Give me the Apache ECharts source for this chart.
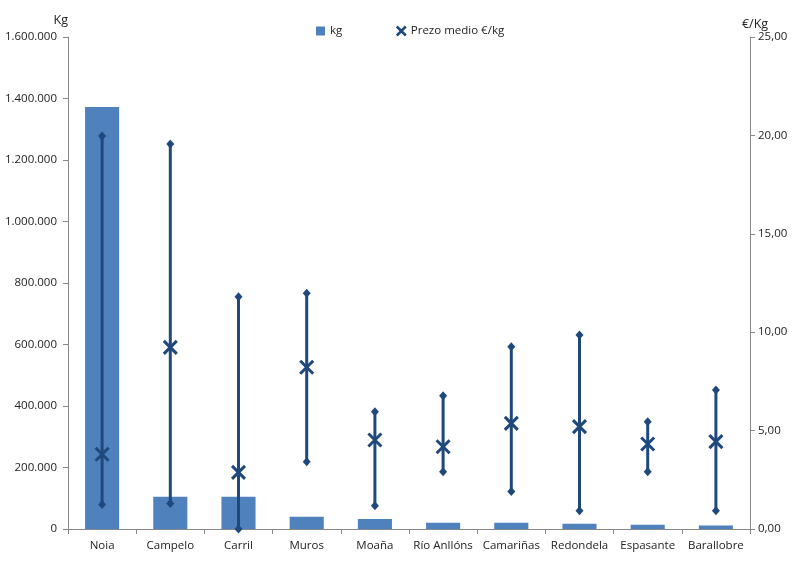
<!DOCTYPE html>
<html>
<head>
<meta charset="utf-8">
<script src="https://cdn.jsdelivr.net/npm/echarts@6/dist/echarts.min.js"></script>
<style>html,body{margin:0;padding:0;background:#fff}#c{width:795px;height:573px}</style>
</head>
<body>
<div id="c"></div>
<script>
const categories = ['Noia','Campelo','Carril','Muros','Moaña','Río Anllóns','Camariñas','Redondela','Espasante','Barallobre'];
const kg = [1372000, 105000, 105000, 40000, 32500, 20500, 20000, 17000, 14000, 11000];
const priceMin = [1.25, 1.30, 0.00, 3.42, 1.18, 2.91, 1.90, 0.93, 2.91, 0.93];
const priceMax = [19.97, 19.56, 11.80, 11.98, 5.96, 6.77, 9.26, 9.86, 5.45, 7.06];
const priceAvg = [3.80, 9.23, 2.88, 8.22, 4.52, 4.18, 5.37, 5.20, 4.32, 4.44];
const leftTicks = [0, 200000, 1600000];
const rightTicks = [0, 5, 25];

const FONT = 'Open Sans';
const TXT = '#222';
const BLUE_DARK = '#1F497D';
const BAR = '#4F81BD';
const X_PATH = 'path://M0,0L10,10M10,0L0,10';

function fmtThousands(v){
  return String(Math.round(v)).replace(/\B(?=(\d{3})+(?!\d))/g, '.');
}
function fmtDec(v){ return v.toFixed(2).replace('.', ','); }

const chart = echarts.init(document.getElementById('c'), null, {renderer:'canvas'});
chart.setOption({
  animation:false,
  textStyle:{fontFamily:FONT, color:TXT},
  grid:{left:68, right:45, top:37, bottom:44},
  legend:{
    top:19, left:311, itemGap:52, itemWidth:9, itemHeight:9,
    textStyle:{fontFamily:FONT, fontSize:11.5, color:TXT},
    data:[
      {name:'kg', icon:'rect', itemStyle:{color:BAR}},
      {name:'Prezo medio €/kg', icon:X_PATH, itemStyle:{color:'none', borderColor:BLUE_DARK, borderWidth:2.5}}
    ]
  },
  xAxis:{
    type:'category', data:categories,
    axisLine:{lineStyle:{color:'#888'}},
    axisTick:{show:true, length:5, lineStyle:{color:'#888'}},
    axisLabel:{fontFamily:FONT, fontSize:11.5, color:TXT, margin:11, interval:0}
  },
  yAxis:[
    {type:'value', min:leftTicks[0], max:leftTicks[2], interval:leftTicks[1],
     name:'Kg', nameLocation:'end', nameGap:10,
     nameTextStyle:{fontFamily:FONT, fontSize:12.5, color:TXT, align:'right', padding:[0,0,0,0]},
     axisLine:{show:true, lineStyle:{color:'#888'}},
     axisTick:{show:true, length:5, lineStyle:{color:'#888'}},
     splitLine:{show:false},
     axisLabel:{fontFamily:FONT, fontSize:11.5, color:TXT, margin:11, formatter:fmtThousands}},
    {type:'value', min:rightTicks[0], max:rightTicks[2], interval:rightTicks[1],
     name:'€/Kg', nameLocation:'end', nameGap:5,
     nameTextStyle:{fontFamily:FONT, fontSize:12.5, color:TXT, align:'center', padding:[0,0,0,10]},
     axisLine:{show:true, lineStyle:{color:'#888'}},
     axisTick:{show:true, length:5, lineStyle:{color:'#888'}},
     splitLine:{show:false},
     axisLabel:{fontFamily:FONT, fontSize:11.5, color:TXT, margin:8, formatter:fmtDec}}
  ],
  series:[
    {name:'kg', type:'bar', yAxisIndex:0, data:kg, barWidth:'50%', itemStyle:{color:BAR}},
    {name:'range', type:'custom', yAxisIndex:1,
     data:categories.map((c,i)=>[i, priceMin[i], priceMax[i]]),
     encode:{x:0, y:[1,2]},
     renderItem:function(params, api){
       const a = api.coord([api.value(0), api.value(1)]);
       const b = api.coord([api.value(0), api.value(2)]);
       return {type:'line', shape:{x1:a[0], y1:a[1], x2:b[0], y2:b[1]},
               style:{stroke:BLUE_DARK, lineWidth:3}};
     }, z:3},
    {name:'min', type:'scatter', yAxisIndex:1, data:priceMin, symbol:'diamond', symbolSize:[8,9],
     itemStyle:{color:BLUE_DARK, opacity:1}, z:4},
    {name:'max', type:'scatter', yAxisIndex:1, data:priceMax, symbol:'diamond', symbolSize:[8,9],
     itemStyle:{color:BLUE_DARK, opacity:1}, z:4},
    {name:'Prezo medio €/kg', type:'scatter', yAxisIndex:1, data:priceAvg, symbol:X_PATH, symbolSize:13,
     itemStyle:{color:'none', borderColor:BLUE_DARK, borderWidth:3, opacity:1}, z:5}
  ]
});
</script>
</body>
</html>
